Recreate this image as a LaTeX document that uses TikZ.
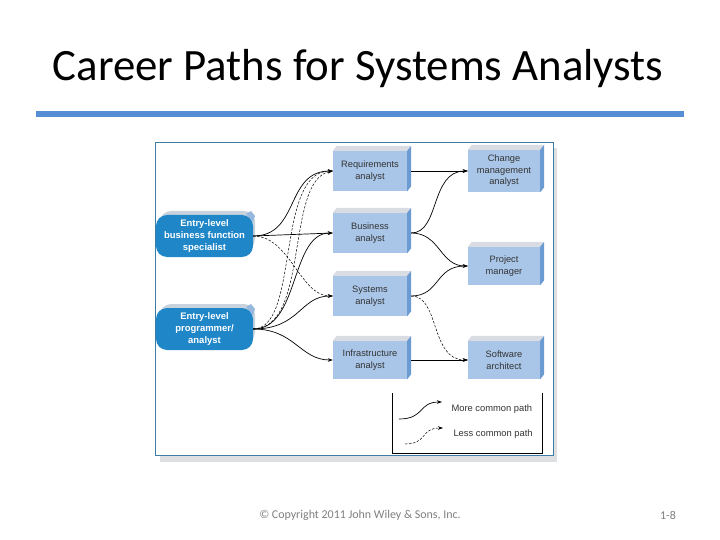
\documentclass[tikz,border=0pt]{standalone}
\usepackage{fontspec}
\setmainfont{Carlito}
\newfontfamily\arialf{Liberation Sans}
\usetikzlibrary{arrows.meta}
\definecolor{rulecol}{HTML}{558ED5}
\definecolor{framecol}{HTML}{3A7EA3}
\definecolor{boxfill}{HTML}{A9C6E8}
\definecolor{boxside}{HTML}{6C9BD2}
\definecolor{boxtop}{HTML}{D9DDE3}
\definecolor{entryfill}{HTML}{1F86C8}
\definecolor{entrytop}{HTML}{C9D3DD}
\definecolor{footgray}{HTML}{7F7F7F}
\definecolor{shadowgray}{HTML}{DEDFE0}
\newcommand\bevelbox[1]{%
  \fill[boxtop] (#1.north west) -- ++(4,-5) -- ([xshift=4bp,yshift=5bp]#1.north east) -- (#1.north east) -- cycle;
  \fill[boxside] (#1.north east) -- ++(4,-5) -- ([xshift=4bp,yshift=5bp]#1.south east) -- (#1.south east) -- cycle;
}
\begin{document}
\begin{tikzpicture}[x=1bp,y=-1bp,
  lbox/.style={fill=boxfill, minimum width=74bp, minimum height=40bp, inner sep=1bp, align=center,
    font=\arialf\fontsize{9.3}{11.5}\selectfont, text=black!80},
  rbox/.style={lbox, minimum width=72bp},
  entry/.style={fill=entryfill, rounded corners=11bp, minimum width=97bp, minimum height=42bp, inner sep=1bp,
    align=center, text=white, font=\arialf\bfseries\fontsize{9.5}{12}\selectfont},
  conn/.style={line width=0.7bp, -{Stealth[length=5bp,width=3.5bp]}},
  lconn/.style={conn, dashed, dash pattern=on 2.5bp off 1.5bp, line width=0.5bp},
]
\useasboundingbox (0,0) rectangle (720,540);
% title
\node[font=\fontsize{45}{50}\selectfont] (title) at (358,69) {Career Paths for Systems Analysts};
\fill[rulecol] (36,111) rectangle (684,117);
% frame
\fill[shadowgray] (160,455) rectangle (557,462);
\fill[shadowgray] (553,148) rectangle (557,462);
\draw[framecol, line width=1bp] (155,143) rectangle (553,455);
% entry nodes with bevels
\fill[entrytop, rounded corners=11bp] (160,211) rectangle (255,250);
\fill[entrytop, rounded corners=11bp] (160,304) rectangle (255,343);
\node[entry] (eb) at (204.5,236) {Entry-level\\business function\\specialist};
\node[entry] (ep) at (204.5,329) {Entry-level\\programmer/\\analyst};
\fill[boxside!70] (246,214) -- (251,211) -- (255,216) -- (253,222) -- cycle;
\fill[boxside!70] (246,307) -- (251,304) -- (255,309) -- (253,315) -- cycle;
% boxes
\node[lbox] (req) at (370,171) {Requirements\\analyst};
\node[lbox] (bus) at (370,233) {Business\\analyst};
\node[lbox] (sys) at (370,296) {Systems\\analyst};
\node[lbox, minimum height=38bp] (inf) at (370,360) {Infrastructure\\analyst};
\node[rbox, minimum height=42bp] (chg) at (504,171) {Change\\management\\analyst};
\node[rbox, minimum height=38bp] (pm) at (504,266) {Project\\manager};
\node[rbox, minimum height=38bp] (sw) at (504,360) {Software\\architect};
\bevelbox{req}\bevelbox{bus}\bevelbox{sys}\bevelbox{inf}
\bevelbox{chg}\bevelbox{pm}\bevelbox{sw}
% left connectors
\draw[conn] (eb.east) .. controls (300,236) and (285,171) .. (req.west);
\draw[conn] (eb.east) -- (bus.west);
\draw[lconn] (eb.east) .. controls (290,236) and (300,296) .. (sys.west);
\draw[lconn] (ep.east) .. controls (300,329) and (275,171) .. (req.west);
\draw[lconn] (ep.east) .. controls (310,329) and (285,180) .. (req.west);
\draw[conn] (ep.east) .. controls (300,329) and (290,233) .. (bus.west);
\draw[conn] (ep.east) .. controls (300,329) and (300,296) .. (sys.west);
\draw[conn] (ep.east) .. controls (295,329) and (300,360) .. (inf.west);
% right connectors
\coordinate (reqE) at ([xshift=4bp]req.east);
\coordinate (busE) at ([xshift=4bp]bus.east);
\coordinate (sysE) at ([xshift=4bp]sys.east);
\coordinate (infE) at ([xshift=4bp]inf.east);
\draw[conn] (reqE) -- (chg.west);
\draw[conn] (busE) .. controls (440,233) and (430,171) .. (chg.west);
\draw[conn] (busE) .. controls (440,233) and (440,266) .. (pm.west);
\draw[conn] (sysE) .. controls (440,296) and (435,266) .. (pm.west);
\draw[lconn] (sysE) .. controls (440,296) and (430,360) .. (sw.west);
\draw[conn] (infE) -- (sw.west);
% legend
\draw[line width=0.7bp] (392,393) -- (392,453) -- (542,453) -- (542,393);
\coordinate (l1a) at (399,419); \coordinate (l1b) at (442,402);
\coordinate (l2a) at (405,444); \coordinate (l2b) at (443,428);
\draw[conn] (l1a) .. controls (425,419) and (418,402) .. (l1b);
\draw[lconn] (l2a) .. controls (428,444) and (420,428) .. (l2b);
\node[anchor=west, font=\arialf\fontsize{9.4}{10}\selectfont, text=black!80] (lt1) at (448,409) {More common path};
\node[anchor=west, font=\arialf\fontsize{9.4}{10}\selectfont, text=black!80] (lt2) at (450,434) {Less common path};
% footer
\node[font=\fontsize{12}{14}\selectfont, text=footgray] (copy) at (360,515) {© Copyright 2011 John Wiley \& Sons, Inc.};
\node[font=\fontsize{12}{14}\selectfont, text=footgray] (pg) at (668,515) {1-8};
\end{tikzpicture}
\end{document}
